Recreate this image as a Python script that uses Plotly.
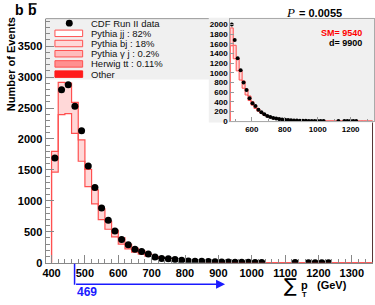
import plotly.graph_objects as go

W, H = 375, 305
FONT = "Liberation Sans"

# ---------------- data ----------------
bin_width = 20
bin_start = 400
data_counts = [1693, 2797, 2877, 2530, 2134, 1565, 1215, 883, 688, 512,
               375, 290, 218, 183, 141, 92, 68, 64, 53, 41,
               30, 25, 22, 18, 15, 12, 11, 9, 7, 6,
               4, 3, 0, 0, 0, 0, 2, 0, 1, 1,
               1, 1]
mc_jj = [1465, 2393, 2409, 2091, 1640, 1231, 950, 696, 541, 419,
         300, 223, 170, 140, 105, 80, 63, 51, 40, 32,
         26, 21, 17, 14, 11, 9, 7, 6, 5, 4,
         3, 2.5, 2.4, 1.6, 1.6, 1.6, 1.2, 1.0, 0.8, 0.6,
         0.6, 0.5, 0.4, 0.3, 0.3, 0.2, 0.2, 0.2]
mc_bj = [334, 521, 496, 499, 345, 277, 228, 175, 128, 106,
         103, 74, 64, 51, 35, 20, 17, 14, 10, 8,
         6, 5, 4, 3, 3, 2, 2, 1, 1, 1,
         1, 0.5, 0.6, 0.4, 0.4, 0.4, 0.3, 0.2, 0.2, 0.2,
         0.1, 0.1, 0.1, 0.1, 0.1, 0.1, 0.1, 0.0]
x_tick_vals = [400, 500, 600, 700, 800, 900, 1000, 1100, 1200, 1300]
y_tick_vals = [0, 500, 1000, 1500, 2000, 2500, 3000, 3500]

inset_bin_width = 18
inset_start = 469
inset_data = [2000, 1680, 1300, 1055, 800, 645, 475, 370, 310, 235,
              185, 140, 105, 85, 65, 52, 42, 33, 26, 20,
              16, 13, 10, 8, 6, 5, 4, 3, 3, 2,
              2, 2, 0, 0, 0, 0, 1, 0, 1, 1,
              1, 1, 1]
inset_jj = [1560, 1290, 1040, 850, 680, 540, 425, 330, 262, 205,
            160, 123, 94, 74, 57, 45, 35, 28, 22, 17,
            14, 11, 8, 6.5, 5, 4, 3, 2.5, 2.5, 1.6,
            1.6, 1.6, 0.8, 0.8, 0.8, 0.8, 0.8, 0.8, 0.4, 0.4,
            0.4, 0.4, 0.3, 0.3, 0.3, 0.2, 0.2, 0.2]
inset_bj = [370, 280, 250, 190, 150, 120, 95, 70, 58, 45,
            35, 27, 21, 16, 13, 10, 8, 6, 5, 4,
            3, 2, 2, 1.5, 1, 1, 1, 0.5, 0.5, 0.4,
            0.4, 0.4, 0.2, 0.2, 0.2, 0.2, 0.2, 0.2, 0.1, 0.1,
            0.1, 0.1, 0.1, 0.1, 0.1, 0.1, 0.1, 0.1]
inset_x_ticks = [600, 800, 1000, 1200]
inset_y_ticks = [0, 200, 400, 600, 800, 1000, 1200, 1400, 1600, 1800, 2000]

cut_value = 469
arrow_end = 920
p_value = "0.0055"
sm_total = 9540
d_total = 9900
legend_labels = ["CDF Run II data", "Pythia jj : 82%", "Pythia bj : 18%",
                 "Pythia \u03b3 j : 0.2%", "Herwig tt : 0.11%", "Other"]
legend_fills = ["#ffffff", "#ffd8d8", "#ffbcbc", "#ff9090", "#ff1a1a"]

RED = "#ff5050"
PINK = "#ffd8d8"


def px(x):
    return x / W


def py(y):
    return 1 - y / H


def step_xy(start, width, values):
    edges = [start + i * width for i in range(len(values) + 1)]
    xs = [edges[0]] + edges
    ys = [0] + list(values) + [values[-1]]
    return xs, ys


def points(start, width, values):
    xs, ys = [], []
    for i, v in enumerate(values):
        if v > 0:
            xs.append(start + (i + 0.5) * width)
            ys.append(v)
    return xs, ys


fig = go.Figure()

# main histograms
mx, my_jj = step_xy(bin_start, bin_width, mc_jj)
_, my_tot = step_xy(bin_start, bin_width, [a + b for a, b in zip(mc_jj, mc_bj)])
fig.add_trace(go.Scatter(x=mx, y=my_jj, mode="lines", line=dict(color=RED, width=1.2, shape="hv"),
                         fill="tozeroy", fillcolor="#ffffff", showlegend=False, hoverinfo="skip"))
fig.add_trace(go.Scatter(x=mx, y=my_tot, mode="lines", line=dict(color=RED, width=1.2, shape="hv"),
                         fill="tonexty", fillcolor=PINK, showlegend=False, hoverinfo="skip"))
dx, dy = points(bin_start, bin_width, data_counts)
fig.add_trace(go.Scatter(x=dx, y=dy, mode="markers", marker=dict(color="black", size=7),
                         showlegend=False))

# inset histograms
ix, iy_jj = step_xy(inset_start, inset_bin_width, inset_jj)
_, iy_tot = step_xy(inset_start, inset_bin_width, [a + b for a, b in zip(inset_jj, inset_bj)])
fig.add_trace(go.Scatter(x=ix, y=iy_jj, mode="lines", line=dict(color=RED, width=1.0, shape="hv"),
                         fill="tozeroy", fillcolor="#ffffff", showlegend=False, hoverinfo="skip",
                         xaxis="x2", yaxis="y2"))
fig.add_trace(go.Scatter(x=ix, y=iy_tot, mode="lines", line=dict(color=RED, width=1.0, shape="hv"),
                         fill="tonexty", fillcolor=PINK, showlegend=False, hoverinfo="skip",
                         xaxis="x2", yaxis="y2"))
idx, idy = points(inset_start, inset_bin_width, inset_data)
fig.add_trace(go.Scatter(x=idx, y=idy, mode="markers", marker=dict(color="black", size=4),
                         showlegend=False, xaxis="x2", yaxis="y2"))

shapes = []
annotations = []

# inset pad and legend background
shapes.append(dict(type="rect", xref="paper", yref="paper", x0=px(208), x1=px(375), y0=py(125), y1=py(18),
                   fillcolor="#f0f0f0", line=dict(width=0), layer="below"))
shapes.append(dict(type="rect", xref="paper", yref="paper", x0=px(43), x1=px(209), y0=py(81), y1=py(19),
                   fillcolor="#f0f0f0", line=dict(width=0), layer="below"))
# main frame top and right edges
shapes.append(dict(type="line", xref="paper", yref="paper", x0=px(43), x1=px(208), y0=py(19), y1=py(19),
                   line=dict(color="#999999", width=1)))
shapes.append(dict(type="line", xref="paper", yref="paper", x0=px(373.5), x1=px(373.5), y0=py(125), y1=py(268),
                   line=dict(color="#553333", width=1)))

# legend
row0, row_step = 23.6, 10.4
shapes.append(dict(type="circle", xref="paper", yref="paper", x0=px(63.5), x1=px(70.5),
                   y0=py(row0 + 3.5), y1=py(row0 - 3.5), fillcolor="black", line=dict(width=0)))
for i, lab in enumerate(legend_labels):
    yc = row0 + i * row_step
    if i > 0:
        fc = legend_fills[i - 1]
        lc = fc if i == len(legend_labels) - 1 else RED
        shapes.append(dict(type="rect", xref="paper", yref="paper", x0=px(52.5), x1=px(80.5),
                           y0=py(yc + 3.3), y1=py(yc - 3.3), fillcolor=fc, line=dict(color=lc, width=1)))
    annotations.append(dict(text=lab, xref="paper", yref="paper", x=px(87), y=py(yc), xanchor="left",
                            yanchor="middle", showarrow=False,
                            font=dict(family=FONT, size=9.5, color="#111111")))

# title b b-bar
annotations.append(dict(text="<b>b</b>", xref="paper", yref="paper", x=px(16.5), y=py(10.5),
                        xanchor="center", yanchor="middle", showarrow=False,
                        font=dict(family=FONT, size=14, color="black")))
annotations.append(dict(text="<b>b</b>", xref="paper", yref="paper", x=px(30), y=py(10.5),
                        xanchor="center", yanchor="middle", showarrow=False,
                        font=dict(family=FONT, size=14, color="black")))
shapes.append(dict(type="line", xref="paper", yref="paper", x0=px(26), x1=px(34), y0=py(4), y1=py(4),
                   line=dict(color="black", width=1.5)))

# P value
annotations.append(dict(text="<i>P</i>", xref="paper", yref="paper", x=px(290.5), y=py(13),
                        xanchor="center", yanchor="middle", showarrow=False,
                        font=dict(family="Liberation Serif", size=13, color="black")))
annotations.append(dict(text="<b>= " + p_value + "</b>", xref="paper", yref="paper", x=px(297.5), y=py(13),
                        xanchor="left", yanchor="middle", showarrow=False,
                        font=dict(family=FONT, size=11, color="black")))

# y title
annotations.append(dict(text="<b>Number of Events</b>", xref="paper", yref="paper", x=px(7.5), y=py(65),
                        xanchor="center", yanchor="middle", textangle=-90, showarrow=False,
                        font=dict(family=FONT, size=11, color="black")))

# x title
annotations.append(dict(text="\u2211", xref="paper", yref="paper", x=px(291), y=py(291),
                        xanchor="center", yanchor="middle", showarrow=False,
                        font=dict(family="DejaVu Sans", size=19, color="black")))
annotations.append(dict(text="<b>p</b>", xref="paper", yref="paper", x=px(305), y=py(290.5),
                        xanchor="center", yanchor="middle", showarrow=False,
                        font=dict(family=FONT, size=11, color="black")))
annotations.append(dict(text="<b>T</b>", xref="paper", yref="paper", x=px(305), y=py(300.5),
                        xanchor="center", yanchor="middle", showarrow=False,
                        font=dict(family=FONT, size=7.5, color="black")))
annotations.append(dict(text="<b>(GeV)</b>", xref="paper", yref="paper", x=px(315), y=py(290.5),
                        xanchor="left", yanchor="middle", showarrow=False,
                        font=dict(family=FONT, size=11, color="black")))

# inset texts
annotations.append(dict(text="<b>SM= %d</b>" % sm_total, xref="paper", yref="paper", x=px(365), y=py(34),
                        xanchor="right", yanchor="middle", showarrow=False,
                        font=dict(family=FONT, size=9, color="#ff0000")))
annotations.append(dict(text="<b>d= %d</b>" % d_total, xref="paper", yref="paper", x=px(365), y=py(43.5),
                        xanchor="right", yanchor="middle", showarrow=False,
                        font=dict(family=FONT, size=9, color="black")))

# cut arrow
BLUE = "#1a1aff"
shapes.append(dict(type="line", xref="x", yref="paper", x0=cut_value, x1=cut_value, y0=py(269), y1=py(290.5),
                   line=dict(color=BLUE, width=1.5)))
annotations.append(dict(text="", xref="x", yref="paper", x=arrow_end, y=py(290), axref="x", ax=cut_value,
                        ayref="pixel", ay=0, showarrow=True, arrowhead=2, arrowsize=1.2, arrowwidth=1.5,
                        arrowcolor=BLUE))
annotations.append(dict(text="<b>%d</b>" % cut_value, xref="x", yref="paper", x=cut_value, y=py(298),
                        xanchor="left", yanchor="middle", showarrow=False,
                        font=dict(family=FONT, size=12, color=BLUE)))

fig.update_layout(
    width=W, height=H,
    margin=dict(l=0, r=0, t=0, b=0),
    paper_bgcolor="white",
    plot_bgcolor="rgba(0,0,0,0)",
    showlegend=False,
    shapes=shapes,
    annotations=annotations,
    xaxis=dict(domain=[px(43), px(373.5)], range=[382, 1362], tickvals=x_tick_vals,
               ticks="inside", ticklen=8, tickcolor="#888888", tickwidth=1,
               minor=dict(dtick=20, ticks="inside", ticklen=4, tickcolor="#888888"),
               showline=True, linecolor="#888888", linewidth=1, showgrid=False, zeroline=False,
               tickfont=dict(family=FONT, size=11, color="black", weight="bold")),
    yaxis=dict(domain=[py(268), py(19)], range=[0, 3945], tickvals=y_tick_vals,
               ticks="inside", ticklen=8, tickcolor="#888888", tickwidth=1,
               minor=dict(dtick=100, ticks="inside", ticklen=4, tickcolor="#888888"),
               showline=True, linecolor="#888888", linewidth=1, showgrid=False, zeroline=False,
               tickfont=dict(family=FONT, size=11, color="black", weight="bold")),
    xaxis2=dict(domain=[px(229.7), 1.0], range=[469, 1342], anchor="y2", tickvals=inset_x_ticks,
                ticks="inside", ticklen=4, tickcolor="#999999",
                minor=dict(dtick=100, ticks="inside", ticklen=2, tickcolor="#999999"),
                showline=True, mirror=True, linecolor="#aaaaaa", linewidth=1, showgrid=False, zeroline=False,
                tickfont=dict(family=FONT, size=8, color="black", weight="bold")),
    yaxis2=dict(domain=[py(123.5), py(19)], range=[0, 2122], anchor="x2", tickvals=inset_y_ticks,
                ticks="inside", ticklen=4, tickcolor="#999999",
                showline=True, mirror=True, linecolor="#aaaaaa", linewidth=1, showgrid=False, zeroline=False,
                tickfont=dict(family=FONT, size=8, color="black", weight="bold")),
)

fig.write_html("out.html", config={"displayModeBar": False},
               post_script="document.body.style.margin='0';document.body.style.overflow='hidden';")
